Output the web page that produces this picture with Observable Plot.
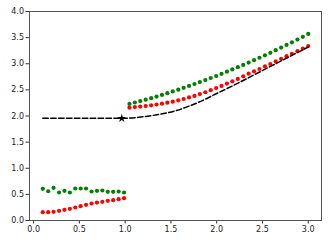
<!DOCTYPE html>
<html>
<head>
<meta charset="utf-8">
<script src="https://cdn.jsdelivr.net/npm/d3@7"></script>
<script src="https://cdn.jsdelivr.net/npm/@observablehq/plot@0.6"></script>
<style>
  html, body { margin: 0; padding: 0; background: #fff; }
  svg { display: block; }
</style>
</head>
<body>
<div id="chart"></div>
<script>
const xLow = [0.100, 0.159, 0.218, 0.278, 0.337, 0.396, 0.455, 0.514, 0.573, 0.633, 0.692, 0.751, 0.810, 0.869, 0.929, 0.988];
const greenLow = [0.607, 0.56, 0.625, 0.536, 0.568, 0.536, 0.612, 0.612, 0.612, 0.555, 0.568, 0.574, 0.549, 0.549, 0.555, 0.536];
const redLow = [0.16, 0.16, 0.166, 0.185, 0.204, 0.223, 0.249, 0.274, 0.30, 0.325, 0.344, 0.357, 0.376, 0.389, 0.408, 0.427];

const xHigh = [1.047, 1.106, 1.165, 1.224, 1.284, 1.343, 1.402, 1.461, 1.520, 1.580, 1.639, 1.698, 1.757, 1.816, 1.876, 1.935, 1.994, 2.053, 2.112, 2.171, 2.231, 2.290, 2.349, 2.408, 2.467, 2.527, 2.586, 2.645, 2.704, 2.763, 2.822, 2.882, 2.941, 3.000];
const greenHigh = [2.232, 2.258, 2.285, 2.313, 2.342, 2.372, 2.404, 2.437, 2.470, 2.504, 2.539, 2.575, 2.612, 2.649, 2.687, 2.727, 2.766, 2.807, 2.849, 2.891, 2.934, 2.978, 3.023, 3.069, 3.115, 3.162, 3.210, 3.259, 3.309, 3.360, 3.411, 3.463, 3.516, 3.570];
const redHigh = [2.16, 2.17, 2.18, 2.19, 2.205, 2.22, 2.235, 2.255, 2.275, 2.30, 2.325, 2.355, 2.385, 2.42, 2.455, 2.495, 2.535, 2.575, 2.62, 2.665, 2.71, 2.76, 2.81, 2.855, 2.90, 2.95, 2.995, 3.045, 3.095, 3.145, 3.19, 3.24, 3.29, 3.34];

const modelX = [0.1, 0.963, 1.15, 1.35, 1.55, 1.7, 1.85, 2.0, 2.2, 2.4, 2.6, 2.8, 3.0];
const modelY = [1.955, 1.955, 1.975, 2.025, 2.10, 2.19, 2.30, 2.43, 2.60, 2.78, 2.96, 3.14, 3.32];
const starX = [0.963];
const starY = [1.955];

const xTicks = [0, 0.5, 1.0, 1.5, 2.0, 2.5, 3.0];
const yTicks = [0, 0.5, 1.0, 1.5, 2.0, 2.5, 3.0, 3.5, 4.0];

const pts = (xs, ys) => xs.map((x, i) => ({x, y: ys[i]}));
const green = pts(xLow, greenLow).concat(pts(xHigh, greenHigh));
const red = pts(xLow, redLow).concat(pts(xHigh, redHigh));
const model = pts(modelX, modelY);
const star = pts(starX, starY);

const fmt = d3.format(".1f");

const chart = Plot.plot({
  width: 332,
  height: 244,
  marginLeft: 29,
  marginRight: 11,
  marginTop: 11,
  marginBottom: 24,
  style: {fontFamily: "DejaVu Sans", fontSize: "8px", color: "#222", background: "#fff"},
  x: {domain: [-0.045, 3.145], label: null},
  y: {domain: [0, 4], label: null},
  marks: [
    Plot.axisX({ticks: xTicks, tickFormat: fmt, tickSize: 3.5, tickPadding: 2, label: null, stroke: "#333"}),
    Plot.axisY({ticks: yTicks, tickFormat: fmt, tickSize: 3.5, tickPadding: 2, label: null, stroke: "#333"}),
    Plot.dot(green, {x: "x", y: "y", r: 2.1, fill: "green", stroke: null}),
    Plot.dot(red, {x: "x", y: "y", r: 2.1, fill: "red", stroke: null}),
    Plot.line(model, {x: "x", y: "y", stroke: "black", strokeWidth: 1.5, strokeDasharray: "5.5,2.4", curve: "monotone-x"}),
    Plot.dot(star, {x: "x", y: "y", symbol: "star", r: 2.7, fill: "black", stroke: null}),
    Plot.frame({stroke: "#555", strokeWidth: 1})
  ]
});
document.getElementById("chart").appendChild(chart);
</script>
</body>
</html>
